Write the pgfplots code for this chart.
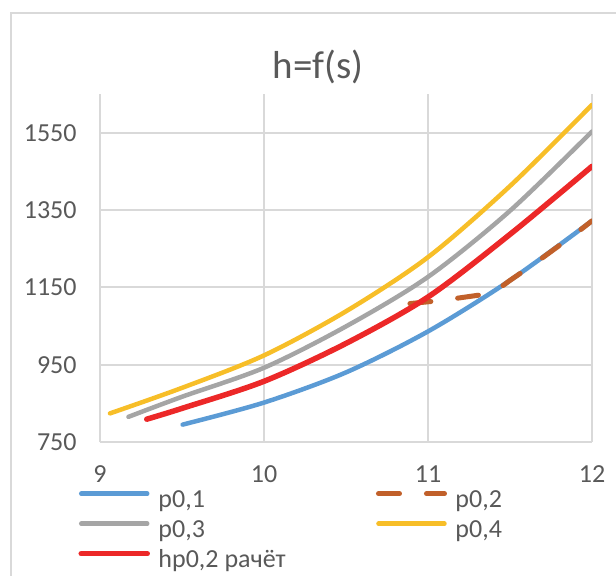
\documentclass[border=0pt]{standalone}
\usepackage{fontspec}
\setmainfont{Carlito}
\usepackage{pgfplots}
\pgfplotsset{compat=1.18}
\definecolor{cblue}{RGB}{91,155,213}
\definecolor{cbrown}{RGB}{193,96,42}
\definecolor{cgray}{RGB}{165,165,165}
\definecolor{cyellow}{RGB}{247,190,40}
\definecolor{cred}{RGB}{236,40,40}
\definecolor{gridc}{RGB}{217,217,217}
\definecolor{txt}{RGB}{89,89,89}
\begin{document}
\begin{tikzpicture}
\path[use as bounding box] (-50pt,-66.5pt) rectangle (258pt,221pt);
\draw[color=gridc, line width=0.6pt] (-44.5pt,-80pt) -- (-44.5pt,214.5pt) -- (270pt,214.5pt);
\begin{axis}[
  at={(0pt,0pt)}, anchor=south west,
  scale only axis, width=246pt, height=174pt,
  xmin=9, xmax=12, ymin=750, ymax=1650,
  xtick={9,10,11,12}, ytick={750,950,1150,1350,1550},
  axis x line=bottom, axis y line=left,
  axis line style={-, color=gridc, line width=1pt},
  grid=major, major grid style={color=gridc, line width=1pt},
  major tick length=0pt,
  tick label style={font=\fontsize{13}{15}\selectfont, color=txt},
  /pgf/number format/assume math mode=true,
  /pgf/number format/1000 sep={},
  xticklabel style={anchor=center, yshift=-16pt, inner sep=0pt},
  yticklabel style={anchor=east, xshift=-11.5pt, inner sep=0pt},
  legend columns=2,
  legend cell align=left,
  legend style={at={(-0.04878,-0.1400)}, anchor=north west, draw=none, fill=none,
    inner sep=0pt, outer sep=0pt, row sep=4pt,
    font=\fontsize{13}{15}\selectfont, text=txt,
    nodes={inner sep=0pt, text height=8.5pt, text depth=2.5pt},
    /tikz/every odd column/.append style={column sep=3pt}},
  legend image code/.code={\path (0pt,0pt) (35.5pt,0pt);\draw[#1, line cap=round] (1.25pt,4pt) -- (34.25pt,4pt);},
]
\addplot[cblue, line width=2.25pt, smooth, line cap=round] coordinates {
 (9.504,795) (10,852) (10.5,930) (11,1036) (11.5,1168) (12,1322)};
\addlegendentry{\makebox[107.5pt][l]{p0,1}}
\addplot[cbrown, line width=2.5pt, dash pattern=on 10.5pt off 13.5pt, line cap=round] coordinates {
 (10.89,1108) (11.08,1116) (11.38,1134) (11.43,1146) (11.5,1168) (11.6,1197) (11.7,1227) (11.8,1258) (11.9,1289) (12,1322)};
\addlegendentry{p0,2}
\addplot[cgray, line width=2.25pt, smooth, line cap=round] coordinates {
 (9.173,815) (9.5,867) (10,942) (10.5,1049) (11,1177) (11.5,1348) (12,1553)};
\addlegendentry{\makebox[107.5pt][l]{p0,3}}
\addplot[cyellow, line width=2.25pt, smooth, line cap=round] coordinates {
 (9.061,824) (9.5,890) (10,974) (10.5,1088) (11,1228) (11.5,1412) (12,1622)};
\addlegendentry{p0,4}
\addplot[cred, line width=2.75pt, smooth, line cap=round] coordinates {
 (9.285,809) (9.5,837) (10,907) (10.5,1005) (11,1125) (11.5,1287) (12,1463)};
\addlegendentry{\makebox[107.5pt][l]{hp0,2 рачёт}}
\end{axis}
\node[anchor=base, font=\fontsize{19.5}{23}\selectfont, text=txt] at (109pt,182pt) {h=f(s)};
\end{tikzpicture}
\end{document}
